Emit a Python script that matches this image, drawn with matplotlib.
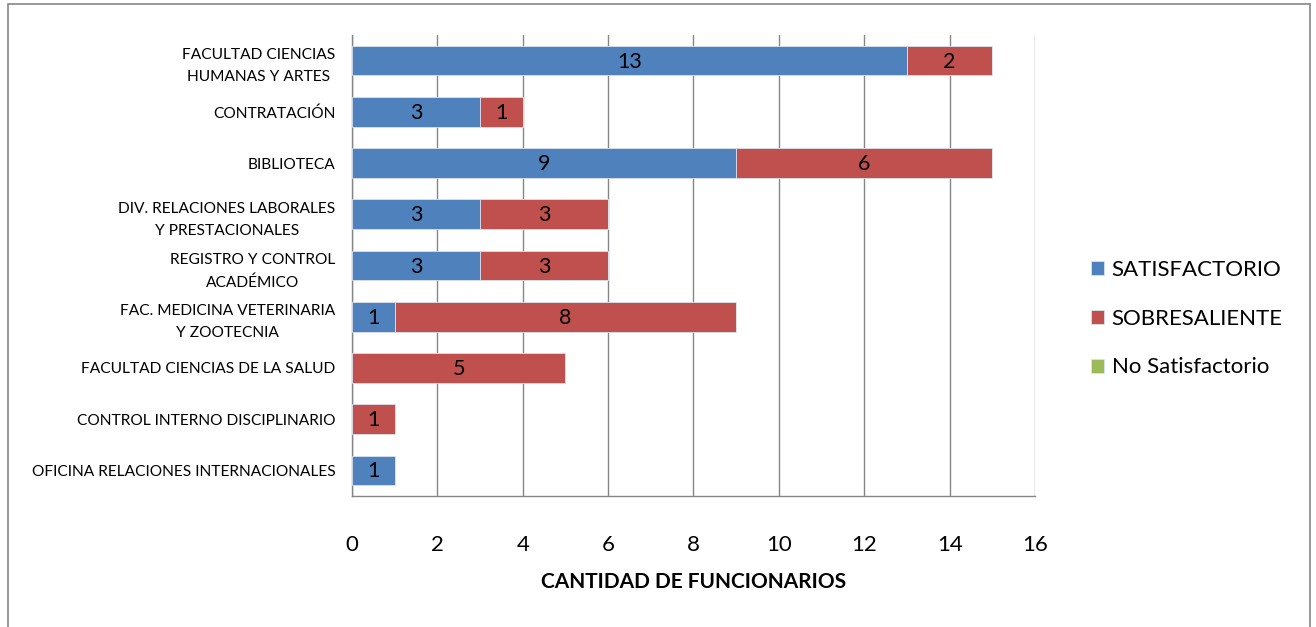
import matplotlib
matplotlib.use("Agg")
import matplotlib.pyplot as plt
import numpy as np

plt.rcParams["font.family"] = ["Lato", "DejaVu Sans"]

categories = [
    "FACULTAD CIENCIAS\nHUMANAS Y ARTES",
    "CONTRATACIÓN",
    "BIBLIOTECA",
    "DIV. RELACIONES LABORALES\nY PRESTACIONALES",
    "REGISTRO Y CONTROL\nACADÉMICO",
    "FAC. MEDICINA VETERINARIA\nY ZOOTECNIA",
    "FACULTAD CIENCIAS DE LA SALUD",
    "CONTROL INTERNO DISCIPLINARIO",
    "OFICINA RELACIONES INTERNACIONALES",
]
satisfactorio = [13, 3, 9, 3, 3, 1, 0, 0, 1]
sobresaliente = [2, 1, 6, 3, 3, 8, 5, 1, 0]
no_satisfactorio = [0, 0, 0, 0, 0, 0, 0, 0, 0]

series = [
    ("SATISFACTORIO", satisfactorio, "#4F81BD"),
    ("SOBRESALIENTE", sobresaliente, "#C0504D"),
    ("No Satisfactorio", no_satisfactorio, "#9BBB59"),
]

fig = plt.figure(figsize=(13.16, 6.27), dpi=100)
ax = fig.add_axes([352 / 1316, 1 - 496 / 627, (1035 - 352) / 1316, (496 - 35) / 627])

y = np.arange(len(categories))[::-1]
left = np.zeros(len(categories))
for name, vals, color in series:
    vals = np.array(vals, dtype=float)
    bars = ax.barh(y, vals, left=left, height=0.58, color=color, label=name,
                   edgecolor="#d9e2ef", linewidth=0.6, zorder=3)
    for b, v in zip(bars, vals):
        if v > 0:
            ax.text(b.get_x() + b.get_width() / 2, b.get_y() + b.get_height() / 2 - 0.02,
                    f"{int(v)}", ha="center", va="center", fontsize=15.5, color="black", zorder=4)
    left += vals

ax.set_xlim(0, 16)
ax.set_ylim(-0.5, len(categories) - 0.5)
ax.set_xticks(range(0, 17, 2))
ax.set_yticks(y)
ax.set_yticklabels(categories, multialignment="center", fontsize=11.2, linespacing=1.75)
ax.tick_params(axis="y", length=0, pad=12)
ax.tick_params(axis="x", length=0, pad=28, labelsize=16)
ax.grid(axis="x", color="#868686", linewidth=1, zorder=0)
for s in ["top", "right"]:
    ax.spines[s].set_visible(False)
for s in ["left", "bottom"]:
    ax.spines[s].set_color("#868686")
    ax.spines[s].set_linewidth(1)

ax.set_xlabel("CANTIDAD DE FUNCIONARIOS", fontsize=15, fontweight="bold", labelpad=12)

ax.legend(loc="center left", bbox_to_anchor=(1.052, 0.385), frameon=False,
          fontsize=16, handlelength=0.6, handleheight=0.6, handletextpad=0.35,
          labelspacing=1.3)

# outer chart border
fig.add_artist(plt.Rectangle((8 / 1316, -0.01), 1302 / 1316, 1 - 4 / 627 + 0.01,
                             transform=fig.transFigure, fill=False,
                             edgecolor="#868686", linewidth=1.2))

fig.savefig("out.png", dpi=100)
